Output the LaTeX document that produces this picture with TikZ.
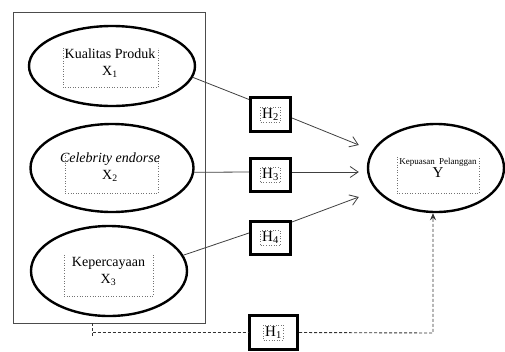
\documentclass[tikz,border=0pt]{standalone}
\usepackage{fontspec}
\setmainfont{Liberation Serif}
\usetikzlibrary{arrows.meta,shapes.geometric,calc}
\begin{document}
\begin{tikzpicture}[x=1pt,y=-1pt,
  ell/.style={ellipse, draw=black, line width=2.4pt, inner sep=0pt},
  grp/.style={draw=black!70, line width=0.8pt, inner sep=0pt},
  hbox/.style={draw=black, line width=2.6pt, minimum width=40.5pt, minimum height=33.5pt, inner sep=0pt},
  lblbox/.style={inner sep=0pt},
  dotbox/.style={draw=black!55, dotted, line width=0.6pt},
  txt/.style={inner sep=0pt, align=center, font=\fontsize{14}{17}\selectfont},
  htxt/.style={draw=black!55, dotted, line width=0.6pt, inner sep=1.5pt, font=\fontsize{15}{16}\selectfont},
  conn/.style={line width=0.8pt, draw=black!75},
  arr/.style={conn, -{Straight Barb[length=8pt,width=11pt,line width=0.8pt]}},
  dashline/.style={line width=0.9pt, draw=black!80, dash pattern=on 3pt off 2pt}
]
\useasboundingbox (0,0) rectangle (505,351);

% group rectangle
\node[grp, minimum width=192pt, minimum height=311pt] (G) at (109,167.5) {};

% ellipses
\node[ell, minimum width=166pt, minimum height=80pt] (E1) at (112,66) {};
\node[ell, minimum width=163pt, minimum height=88pt] (E2) at (112,168) {};
\node[ell, minimum width=156pt, minimum height=90pt] (E3) at (109,271) {};
\node[ell, minimum width=136pt, minimum height=88pt] (Y) at (436,168) {};

% dotted label frames
\node[lblbox, minimum width=95pt, minimum height=39pt] (B1) at (110.5,67.5) {};
\node[lblbox, minimum width=93pt, minimum height=38pt] (B2) at (111.5,174) {};
\node[lblbox, minimum width=89pt, minimum height=41pt] (B3) at (108.5,275.5) {};
\node[lblbox, minimum width=82pt, minimum height=36pt] (BY) at (438,175) {};
\foreach \b in {B1,B2,B3,BY}
  \draw[dotbox] (\b.north west) -- (\b.south west) -- (\b.south east) -- (\b.north east);

% texts
\node[txt] (T1) at (110,63.5) {Kualitas Produk\\X\textsubscript{1}};
\node[txt] (T2) at (110,167) {\textit{Celebrity endorse}\\X\textsubscript{2}};
\node[txt] (T3) at (108.5,271.5) {Kepercayaan\\X\textsubscript{3}};
\node[inner sep=0pt, anchor=north, font=\fontsize{9}{10}\selectfont] (TY1) at (438,158) {Kepuasan\hspace{2pt} Pelanggan};
\node[inner sep=0pt, anchor=north, font=\fontsize{15}{15}\selectfont] (TY2) at (438,167.5) {Y};

% hypothesis boxes
\node[hbox] (H2) at (270.5,114.5) {};
\node[hbox] (H3) at (270.5,175) {};
\node[hbox] (H4) at (270.5,238) {};
\node[hbox, minimum width=48.5pt] (H1) at (273.5,332.5) {};
\node[htxt] (h2) at (H2) {H\textsubscript{2}};
\node[htxt] (h3) at (H3) {H\textsubscript{3}};
\node[htxt] (h4) at (H4) {H\textsubscript{4}};
\node[htxt] (h1) at (H1) {H\textsubscript{1}};

% connectors
\draw[conn] (E1.-8) -- ([yshift=-3pt]H2.north west);
\draw[arr] ([yshift=-3.5pt]H2.east) -- ($(Y.west)+(-8,-23)$);
\draw[conn] (E2.-3) -- ([yshift=3pt]H3.west);
\draw[arr] ([yshift=3pt]H3.east) -- ($(Y.west)+(-8,4)$);
\draw[conn] (E3.12) -- ([yshift=5pt]H4.west);
\draw[arr] ([yshift=-2pt]H4.north east) -- ($(Y.west)+(-8,29)$);

% dashed path H1
\coordinate (d0) at ($(G.south west)+(80,0)$);
\coordinate (c1) at (433,333);
\draw[dashline] (d0) -- ++(0,14);
\draw[dashline] (d0 |- H1.west) -- (H1.west);
\draw[dashline, -{Stealth[length=7pt,width=6pt]}] (H1.east) -- (c1) -- (c1 |- Y.south);
\end{tikzpicture}
\end{document}
